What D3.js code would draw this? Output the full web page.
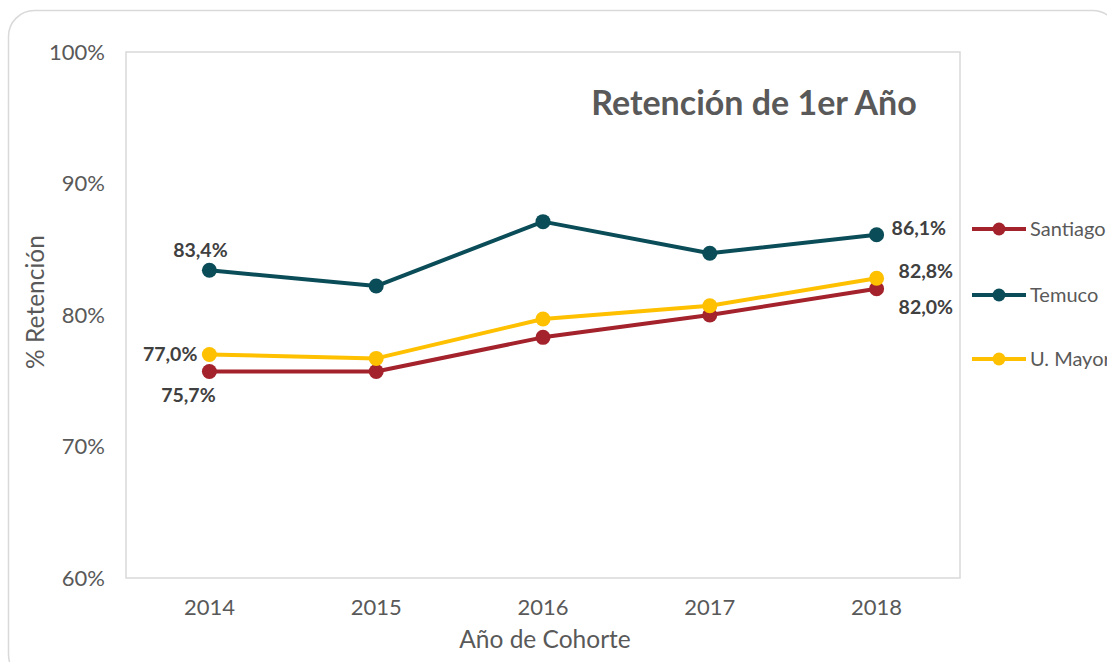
<!DOCTYPE html>
<html>
<head>
<meta charset="utf-8">
<script src="https://cdn.jsdelivr.net/npm/d3@7"></script>
<style>
  html, body { margin: 0; padding: 0; background: #fff; }
  svg { display: block; font-family: Lato, "Open Sans", sans-serif; }
</style>
</head>
<body>
<svg id="chart" width="1107" height="662"></svg>
<script>
// Cohort years and first-year retention (%) by campus
const years = ["2014", "2015", "2016", "2017", "2018"];
const santiago = [75.7, 75.7, 78.3, 80.0, 82.0];
const temuco   = [83.4, 82.2, 87.1, 84.7, 86.1];
const uMayor   = [77.0, 76.7, 79.7, 80.7, 82.8];
const seriesNames = ["Santiago", "Temuco", "U. Mayor"];
const yTicks = [60, 70, 80, 90, 100];

const series = [
  { name: seriesNames[0], values: santiago, color: "#A3222B" },
  { name: seriesNames[1], values: temuco,   color: "#0A4D58" },
  { name: seriesNames[2], values: uMayor,   color: "#FFC000" }
];

const svg = d3.select("#chart");
const plot = { left: 126, right: 960, top: 52, bottom: 578 };

// Outer rounded frame
svg.append("rect")
  .attr("x", 8.5).attr("y", 10.5).attr("width", 1110).attr("height", 670)
  .attr("rx", 26).attr("ry", 26)
  .attr("fill", "#fff").attr("stroke", "#d9d9d9").attr("stroke-width", 1.5);

const x = d3.scaleBand().domain(years).range([plot.left, plot.right]);
const y = d3.scaleLinear().domain([60, 100]).range([plot.bottom, plot.top]);
const cx = d => x(d) + x.bandwidth() / 2;

// Plot area border
svg.append("rect")
  .attr("x", plot.left).attr("y", plot.top)
  .attr("width", plot.right - plot.left).attr("height", plot.bottom - plot.top)
  .attr("fill", "none").attr("stroke", "#d9d9d9").attr("stroke-width", 1.5);

// Y axis
const yAxis = svg.append("g")
  .attr("transform", `translate(${plot.left},0)`)
  .call(d3.axisLeft(y).tickValues(yTicks).tickSize(0).tickPadding(21)
    .tickFormat(d => d + "%"));
yAxis.select(".domain").remove();
yAxis.selectAll("text").attr("fill", "#595959").style("font-size", "22px")
  .style("font-family", "Lato, sans-serif");

// X axis
const xAxis = svg.append("g")
  .attr("transform", `translate(0,${plot.bottom})`)
  .call(d3.axisBottom(x).tickSize(0).tickPadding(21));
xAxis.select(".domain").remove();
xAxis.selectAll("text").attr("fill", "#595959").style("font-size", "22px")
  .style("font-family", "Lato, sans-serif");

// Axis titles
svg.append("text")
  .attr("x", (plot.left + plot.right) / 2 + 2).attr("y", 648)
  .attr("text-anchor", "middle").attr("fill", "#595959")
  .style("font-size", "24.5px").text("Año de Cohorte");
svg.append("text")
  .attr("transform", "translate(44,302) rotate(-90)")
  .attr("text-anchor", "middle").attr("fill", "#595959")
  .style("font-size", "24.5px").text("% Retención");

// Title
svg.append("text")
  .attr("x", 754).attr("y", 115)
  .attr("text-anchor", "middle").attr("fill", "#595959")
  .style("font-size", "34px").style("font-weight", "bold")
  .text("Retención de 1er Año");

// Lines and markers
const line = d3.line().x((d, i) => cx(years[i])).y(d => y(d));
series.forEach(s => {
  svg.append("path").datum(s.values)
    .attr("d", line).attr("fill", "none")
    .attr("stroke", s.color).attr("stroke-width", 4)
    .attr("stroke-linejoin", "round");
  svg.selectAll(null).data(s.values).enter().append("circle")
    .attr("cx", (d, i) => cx(years[i])).attr("cy", d => y(d))
    .attr("r", 7.5).attr("fill", s.color);
});

// Value labels at first and last cohorts
const fmt = v => v.toFixed(1).replace(".", ",") + "%";
const labels = [
  { v: temuco[0],   i: 0, dx: -9,  dy: -13, anchor: "middle" },
  { v: uMayor[0],   i: 0, dx: -12, dy: 7,   anchor: "end" },
  { v: santiago[0], i: 0, dx: -21, dy: 30,  anchor: "middle" },
  { v: temuco[4],   i: 4, dx: 15,  dy: 0,   anchor: "start" },
  { v: uMayor[4],   i: 4, dx: 22,  dy: 0,   anchor: "start" },
  { v: santiago[4], i: 4, dx: 22,  dy: 25,  anchor: "start" }
];
svg.selectAll(null).data(labels).enter().append("text")
  .attr("x", d => cx(years[d.i]) + d.dx)
  .attr("y", d => y(d.v) + d.dy)
  .attr("text-anchor", d => d.anchor)
  .attr("fill", "#404040")
  .style("font-size", "19.5px").style("font-weight", "bold")
  .text(d => fmt(d.v));

// Legend
const legend = svg.append("g").attr("transform", "translate(972,0)");
const legendY = [229, 295, 359];
series.forEach((s, k) => {
  const g = legend.append("g").attr("transform", `translate(0,${legendY[k]})`);
  g.append("line").attr("x1", 0).attr("x2", 54)
    .attr("stroke", s.color).attr("stroke-width", 4);
  g.append("circle").attr("cx", 27).attr("r", 6.5).attr("fill", s.color);
  g.append("text").attr("x", 58).attr("y", 7)
    .attr("fill", "#595959").style("font-size", "20px").text(s.name);
});
</script>
</body>
</html>
